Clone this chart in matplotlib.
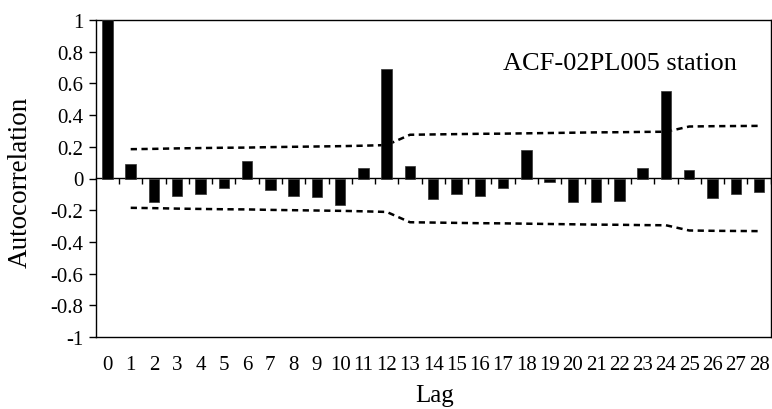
import matplotlib
matplotlib.use("Agg")
import matplotlib.pyplot as plt
import numpy as np

plt.rcParams['font.family'] = ['Liberation Serif', 'DejaVu Serif']

lags = list(range(0, 29))
acf = [1.0, 0.09, -0.15, -0.108, -0.10, -0.062, 0.108, -0.07, -0.108, -0.119,
       -0.167, 0.066, 0.69, 0.077, -0.129, -0.098, -0.108, -0.06, 0.18, -0.024,
       -0.15, -0.15, -0.14, 0.066, 0.55, 0.056, -0.123, -0.098, -0.083]
bound_lags = list(range(1, 29))
upper = [0.185, 0.187, 0.19, 0.192, 0.194, 0.195, 0.198, 0.2, 0.202, 0.204,
         0.207, 0.211, 0.276, 0.278, 0.28, 0.282, 0.283, 0.285, 0.287, 0.289,
         0.291, 0.292, 0.294, 0.295, 0.328, 0.33, 0.331, 0.332]
lower = [-0.185, -0.187, -0.19, -0.192, -0.194, -0.195, -0.198, -0.2, -0.202, -0.204,
         -0.207, -0.211, -0.276, -0.278, -0.28, -0.282, -0.283, -0.285, -0.287, -0.289,
         -0.291, -0.292, -0.294, -0.295, -0.328, -0.33, -0.331, -0.332]
yticks = [-1, -0.8, -0.6, -0.4, -0.2, 0, 0.2, 0.4, 0.6, 0.8, 1]
ytick_labels = ['-1', '-0.8', '-0.6', '-0.4', '-0.2', '0', '0.2', '0.4', '0.6', '0.8', '1']
title_text = 'ACF-02PL005 station'

fig = plt.figure(figsize=(7.72, 4.10), dpi=100)
ax = fig.add_axes([95.8 / 772, 1 - 338 / 410, (770.7 - 95.8) / 772, (338 - 21) / 410])

ax.bar(lags, acf, width=0.45, color='black', edgecolor='#333333', linewidth=0.5, zorder=3)
ls = (0, (2.5, 1.8))
ax.plot(bound_lags, upper, color='black', lw=1.8, linestyle=ls, zorder=2)
ax.plot(bound_lags, lower, color='black', lw=1.8, linestyle=ls, zorder=2)

ax.set_xlim(-0.5, len(lags) - 0.5)
ax.set_ylim(-1, 1)
ax.set_yticks(yticks)
ax.set_yticklabels(ytick_labels)
ax.set_xticks(lags)
ax.set_xticklabels([str(l) for l in lags])
ax.tick_params(axis='y', direction='out', length=5, width=1, pad=4, labelsize=15)
ax.tick_params(axis='x', length=0, pad=13, labelsize=15)
for s in ax.spines.values():
    s.set_linewidth(1.0)

# category axis crossing at zero with boundary tick marks
sec = ax.secondary_xaxis(0.5)
sec.set_xticks(np.arange(-0.5, len(lags) - 0.5) + 1.0)
sec.tick_params(axis='x', direction='in', length=4, width=1,
                labelbottom=False, labeltop=False)
for s in sec.spines.values():
    s.set_linewidth(1.0)

ax.text(0.603, 0.845, title_text, transform=ax.transAxes, ha='left',
        va='baseline', fontsize=19)

ax.set_ylabel('Autocorrelation', fontsize=19.5)
ax.yaxis.set_label_coords(-0.093, 0.49)
ax.set_xlabel('Lag', fontsize=18)
ax.xaxis.set_label_coords(0.5026, -0.148)

fig.savefig('out.png', dpi=100)
